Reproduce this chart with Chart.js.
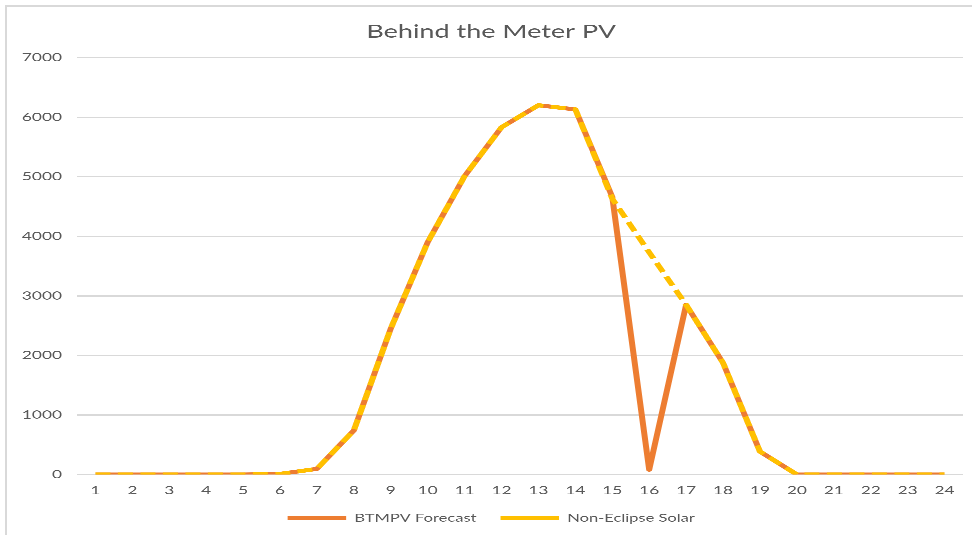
<!DOCTYPE html>
<html>
<head>
<meta charset="utf-8">
<script src="https://cdn.jsdelivr.net/npm/chart.js@4.4.1/dist/chart.umd.min.js"></script>
<style>
  html, body { margin: 0; padding: 0; background: #ffffff; overflow: hidden; }
  body { width: 972px; height: 535px; position: relative; }
  #frame {
    position: absolute; left: 5px; top: 5px; width: 1000px; height: 600px;
    border-left: 2px solid #d9d9d9; border-top: 2px solid #d9d9d9;
    box-sizing: border-box;
  }
  /* chart is laid out at 648px and widened to the full 972px */
  #wrap {
    position: absolute; left: 0; top: 0; width: 648px; height: 535px;
    transform: scaleX(1.5); transform-origin: 0 0;
  }
</style>
</head>
<body>
<div id="frame"></div>
<div id="wrap"><canvas id="chart"></canvas></div>
<script>
// Hour of day
const hours = ['1','2','3','4','5','6','7','8','9','10','11','12','13','14','15','16','17','18','19','20','21','22','23','24'];
// Behind-the-meter PV forecast with the eclipse (MW)
const btmpvForecast = [0, 0, 0, 0, 0, 10, 95, 740, 2450, 3900, 5010, 5830, 6200, 6130, 4660, 80, 2850, 1875, 385, 0, 0, 0, 0, 0];
// Same profile without the eclipse (MW)
const nonEclipseSolar = [0, 0, 0, 0, 0, 10, 95, 740, 2450, 3900, 5010, 5830, 6200, 6130, 4630, 3730, 2850, 1875, 385, 0, 0, 0, 0, 0];
// Value axis ticks
const yTicks = [0, 1000, 2000, 3000, 4000, 5000, 6000, 7000];

const textColor = '#595959';
const gridColor = '#d9d9d9';
const fontFamily = 'Lato, "Open Sans", sans-serif';

new Chart(document.getElementById('chart'), {
  type: 'line',
  data: {
    labels: hours,
    datasets: [
      {
        label: 'BTMPV Forecast',
        data: btmpvForecast,
        borderColor: '#ed7d31',
        backgroundColor: '#ed7d31',
        borderWidth: 4,
        pointRadius: 0,
        tension: 0,
        borderJoinStyle: 'round',
        order: 1
      },
      {
        label: 'Non-Eclipse Solar',
        data: nonEclipseSolar,
        borderColor: '#ffc000',
        backgroundColor: '#ffc000',
        borderWidth: 4,
        borderDash: [10, 5],
        pointRadius: 0,
        tension: 0,
        borderJoinStyle: 'round',
        order: 0
      }
    ]
  },
  options: {
    responsive: true,
    maintainAspectRatio: false,
    animation: false,
    devicePixelRatio: 3,
    layout: { padding: { left: 13, right: 6, top: 0, bottom: 1.5 } },
    plugins: {
      title: {
        display: true,
        text: 'Behind the Meter PV',
        color: textColor,
        font: { family: fontFamily, size: 18, weight: 'normal' },
        padding: { top: 21, bottom: 15 }
      },
      legend: {
        position: 'bottom',
        labels: {
          color: textColor,
          font: { family: fontFamily, size: 11 },
          usePointStyle: true,
          pointStyle: 'line',
          pointStyleWidth: 39,
          boxHeight: 11,
          padding: 16,
          sort: (a, b) => a.datasetIndex - b.datasetIndex
        }
      },
      tooltip: { enabled: false }
    },
    scales: {
      x: {
        offset: true,
        grid: { display: false, drawTicks: false },
        border: { display: false },
        ticks: {
          color: textColor,
          font: { family: fontFamily, size: 11.5, lineHeight: 1 },
          padding: 10.5,
          maxRotation: 0,
          autoSkip: false
        },
        afterFit: (scale) => { scale.height = 22; }
      },
      y: {
        min: yTicks[0],
        max: yTicks[yTicks.length - 1],
        afterBuildTicks: (scale) => { scale.ticks = yTicks.map(v => ({ value: v })); },
        grid: { color: gridColor, lineWidth: 1.3, drawTicks: false },
        border: { display: false },
        ticks: {
          color: textColor,
          font: { family: fontFamily, size: 11.5 },
          padding: 10,
          callback: (v) => String(v)
        },
        afterFit: (scale) => { scale.width = 38.3; }
      }
    }
  }
});
</script>
</body>
</html>
